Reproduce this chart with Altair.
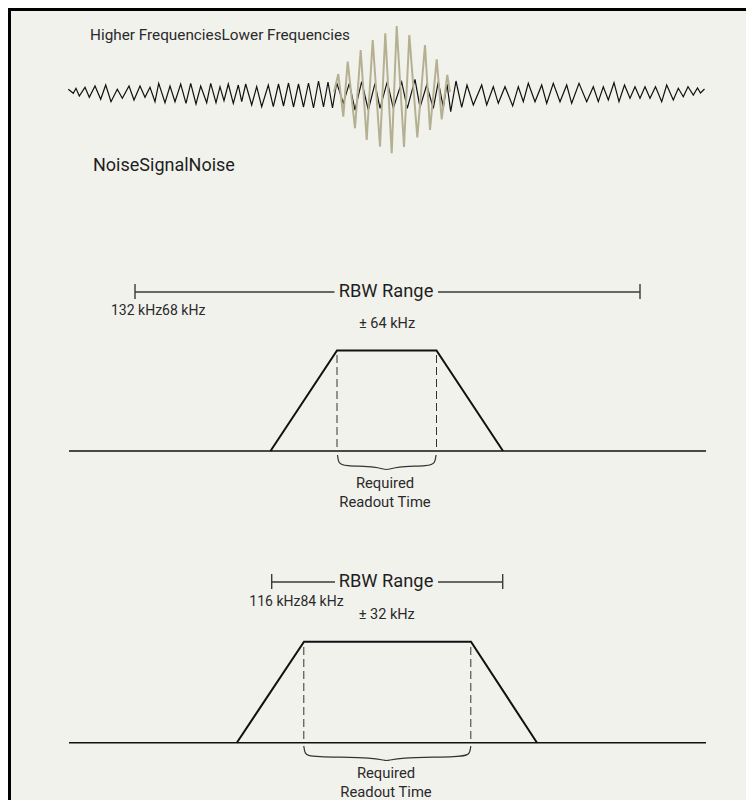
import altair as alt
import pandas as pd

# ---------------- data (diagram coordinates, y grows downward) ----------------
# noise waveform vertices
noise_x = [68.3, 73.3, 76, 79.3, 85, 89.3, 95, 100.7, 105.7, 111, 117.3, 122.3, 129, 134,
           140, 145, 150, 155, 158.7, 165, 170, 175, 180.7, 186, 190.7, 196, 200.7, 206.7,
           210.7, 216, 220, 224, 228.3, 233.3, 238.3, 241.7, 245.7, 251.7, 256.7, 261.7,
           268.3, 273.3,
           278.5, 283.5, 288.5, 293.5, 298.5, 303.5, 308.5, 313.5, 318.5, 323.5, 328, 332.5,
           336.7, 343.3, 349.3, 355, 361.7, 368.3, 375, 380, 387.3, 393.3, 401.7, 407.3,
           415, 420, 426.7, 433.3, 438.3, 443.3, 447, 450.7,
           456, 461.7, 467, 473.3, 481.7, 486.7, 493.3, 498.3, 505, 512.7, 518.3, 523.3,
           528.3, 535, 541.7, 546.7, 553.3, 560, 566.7, 571.7, 579, 586.7, 593.3, 598.3,
           603.3, 608.3, 614, 619, 624.5, 630, 635, 640, 645, 650, 655.5, 661.7, 666.7,
           673.3, 678.3, 683.3, 688, 693.3, 697.5, 700.5, 704.5]
noise_y = [89.3, 93.3, 88.3, 96, 87.3, 97.3, 86, 99.3, 85, 101.7, 89.3, 98.3, 86, 100,
           86, 97.3, 87.3, 101.7, 83.3, 102.7, 86, 101.7, 84, 103.3, 83.3, 104, 86, 102.7,
           83.3, 102.7, 86.7, 100.7, 84, 103.3, 85, 101.7, 84, 105, 86.7, 106.7,
           85, 106.7,
           84, 106, 83, 107, 84, 107, 83, 108, 81, 107, 82, 108,
           82.7, 103.3, 83.3, 110, 81.7, 110, 83.3, 108.3, 81.7, 108.3, 82, 108.3,
           79.3, 107.3, 85, 108.3, 81.7, 107.3, 84, 111.7,
           81, 107.3, 85, 105, 85, 105, 86.7, 103.3, 86.7, 106, 86.7, 101.7,
           83.3, 101.7, 85, 103.3, 83.3, 101.7, 85, 103.3, 83.3, 101.7, 86.7, 101.7,
           86.7, 100, 82.7, 101.7, 85, 98.3, 86.7, 98.3, 86.7, 98.3, 86.7, 101.7, 85,
           100, 88.3, 96.7, 86.7, 95, 88, 93, 89]

# signal burst vertices
signal_x = [334, 338.3, 343.3, 347.7, 355, 360.7, 366.7, 372.7, 380, 385.3, 391.7, 396.7,
            404, 409.3, 417.3, 425, 430, 436.7, 441.7, 447.3, 450]
signal_y = [92, 74, 116.7, 61.7, 128.3, 50, 140, 40, 146.7, 33.3, 153.3, 26,
            147, 35, 137.3, 45, 130, 59.3, 119.3, 75, 92]

# filter passbands (trapezoids): left foot, left shoulder, right shoulder, right foot
trap1_x = [270.5, 337, 436.5, 503]
trap1_y = [451, 350.5, 350.5, 451]
trap2_x = [236.8, 304, 471, 537]
trap2_y = [742.7, 641.7, 641.7, 742.7]

# baselines
base_x0, base_x1 = 69, 706
base_y = [451, 742.7]

# readout windows (dashed verticals)
win_x = [[337, 436.5], [303.8, 470.8]]
win_top = [355, 647]

# RBW range bars: tick left, gap start, gap end, tick right, y
rbw = [[135, 334.5, 438, 640, 292], [271.7, 335, 438, 502.7, 582]]

# braces
brace1_x = [337.5, 338.5, 343, 378, 386.5, 395, 430, 435, 436]
brace1_y = [455, 463, 466, 466.5, 471, 466.5, 466, 463, 455]
brace2_x = [303.8, 304.8, 310, 378, 386.6, 395, 464, 469.8, 470.8]
brace2_y = [746, 754, 757, 757.5, 762, 757.5, 757, 754, 746]

# texts
title_labels = ["Higher FrequenciesLower Frequencies"]
noise_labels = ["NoiseSignalNoise"]
rbw_label = "RBW Range"
khz_labels = ["132 kHz68 kHz", "116 kHz84 kHz"]
pm_labels = ["± 64 kHz", "± 32 kHz"]
readout_labels = ["Required", "Readout Time"]

# ---------------- styling ----------------
BG = "#f2f2ed"
INK = "#111111"
TXT = "#2a2a2a"
GOLD = "#b5b092"
FONT = "Roboto"

XS = alt.Scale(domain=[8, 746], nice=False, zero=False)
YS = alt.Scale(domain=[8, 800], nice=False, zero=False, reverse=True)


def X(f="x"):
    return alt.X(f"{f}:Q", scale=XS, axis=None)


def Y(f="y"):
    return alt.Y(f"{f}:Q", scale=YS, axis=None)


# ---------------- tables ----------------
noise_df = pd.DataFrame({"x": noise_x, "y": noise_y, "i": range(len(noise_x))})
signal_df = pd.DataFrame({"x": signal_x, "y": signal_y, "i": range(len(signal_x))})

poly_rows = []
for seg, (xs, ys) in enumerate([(trap1_x, trap1_y), (trap2_x, trap2_y)]):
    for i, (a, b) in enumerate(zip(xs, ys)):
        poly_rows.append({"seg": f"t{seg}", "i": i, "x": a, "y": b})
poly_df = pd.DataFrame(poly_rows)

base_df = pd.DataFrame({"x": [base_x0] * 2, "x2": [base_x1] * 2, "y": base_y})

dash_rows = []
for k in range(2):
    for xv in win_x[k]:
        dash_rows.append({"x": xv, "y": win_top[k], "y2": base_y[k]})
dash_df = pd.DataFrame(dash_rows)

rbw_h = []
rbw_v = []
for a, g0, g1, b, yy in rbw:
    rbw_h.append({"x": a, "x2": g0, "y": yy})
    rbw_h.append({"x": g1, "x2": b, "y": yy})
    rbw_v.append({"x": a, "y": yy - 8, "y2": yy + 7})
    rbw_v.append({"x": b, "y": yy - 8, "y2": yy + 7})
rbw_h_df = pd.DataFrame(rbw_h)
rbw_v_df = pd.DataFrame(rbw_v)

brace_rows = []
for seg, (xs, ys) in enumerate([(brace1_x, brace1_y), (brace2_x, brace2_y)]):
    for i, (a, b) in enumerate(zip(xs, ys)):
        brace_rows.append({"seg": f"b{seg}", "i": i, "x": a, "y": b})
brace_df = pd.DataFrame(brace_rows)

frame_df = pd.DataFrame({"x": [9.5, 8], "x2": [9.5, 746], "y": [8, 9.5], "y2": [800, 9.5]})

# ---------------- layers ----------------
frame = alt.Chart(frame_df).mark_rule(color="#000000", strokeWidth=3).encode(
    x=X(), x2="x2:Q", y=Y(), y2="y2:Q")

noise = alt.Chart(noise_df).mark_line(color=INK, strokeWidth=1.2).encode(
    x=X(), y=Y(), order="i:Q")
signal = alt.Chart(signal_df).mark_line(color=GOLD, strokeWidth=2).encode(
    x=X(), y=Y(), order="i:Q")

traps = alt.Chart(poly_df).mark_line(color=INK, strokeWidth=2).encode(
    x=X(), y=Y(), detail="seg:N", order="i:Q")
bases = alt.Chart(base_df).mark_rule(color=INK, strokeWidth=1.6).encode(
    x=X(), x2="x2:Q", y=Y())
dashes = alt.Chart(dash_df).mark_rule(color="#333333", strokeWidth=1,
                                      strokeDash=[8, 4]).encode(
    x=X(), y=Y(), y2="y2:Q")
rbw_lines = alt.Chart(rbw_h_df).mark_rule(color="#3a3a3a", strokeWidth=1.4).encode(
    x=X(), x2="x2:Q", y=Y())
rbw_ticks = alt.Chart(rbw_v_df).mark_rule(color="#3a3a3a", strokeWidth=1.4).encode(
    x=X(), y=Y(), y2="y2:Q")
braces = alt.Chart(brace_df).mark_line(color="#333333", strokeWidth=1.2,
                                       interpolate="basis").encode(
    x=X(), y=Y(), detail="seg:N", order="i:Q")

title_df = pd.DataFrame({"x": [90], "y": [35], "t": title_labels})
title_t = alt.Chart(title_df).mark_text(font=FONT, fontSize=15.3, color=TXT, align="left",
                                        baseline="middle").encode(x=X(), y=Y(), text="t:N")

noise_t_df = pd.DataFrame({"x": [93], "y": [166], "t": noise_labels})
noise_t = alt.Chart(noise_t_df).mark_text(font=FONT, fontSize=18, color="#1e1e1e",
                                          align="left", baseline="middle").encode(
    x=X(), y=Y(), text="t:N")

rbw_t_df = pd.DataFrame({"x": [386, 386], "y": [292, 582], "t": [rbw_label, rbw_label]})
rbw_t = alt.Chart(rbw_t_df).mark_text(font=FONT, fontSize=18.3, color="#1e1e1e",
                                      align="center", baseline="middle").encode(
    x=X(), y=Y(), text="t:N")

khz_df = pd.DataFrame({"x": [111, 249.3], "y": [311, 601.5], "t": khz_labels})
khz_t = alt.Chart(khz_df).mark_text(font=FONT, fontSize=14, color=TXT, align="left",
                                    baseline="middle").encode(x=X(), y=Y(), text="t:N")

pm_df = pd.DataFrame({"x": [387, 386.7], "y": [324, 615], "t": pm_labels})
pm_t = alt.Chart(pm_df).mark_text(font=FONT, fontSize=14.5, color=TXT, align="center",
                                  baseline="middle").encode(x=X(), y=Y(), text="t:N")

ro_df = pd.DataFrame({"x": [385, 385, 386, 386], "y": [484, 503, 774, 793],
                      "t": readout_labels + readout_labels})
ro_t = alt.Chart(ro_df).mark_text(font=FONT, fontSize=14.8, color=TXT, align="center",
                                  baseline="middle").encode(x=X(), y=Y(), text="t:N")

chart = alt.layer(
    frame, noise, signal, bases, traps, dashes, rbw_lines, rbw_ticks, braces,
    title_t, noise_t, rbw_t, khz_t, pm_t, ro_t
).properties(
    width=738, height=792, padding=0, background=BG,
    autosize=alt.AutoSizeParams(type="none")
).configure_view(stroke=None)

chart.save("out.html", embed_options={"renderer": "svg", "actions": False})
